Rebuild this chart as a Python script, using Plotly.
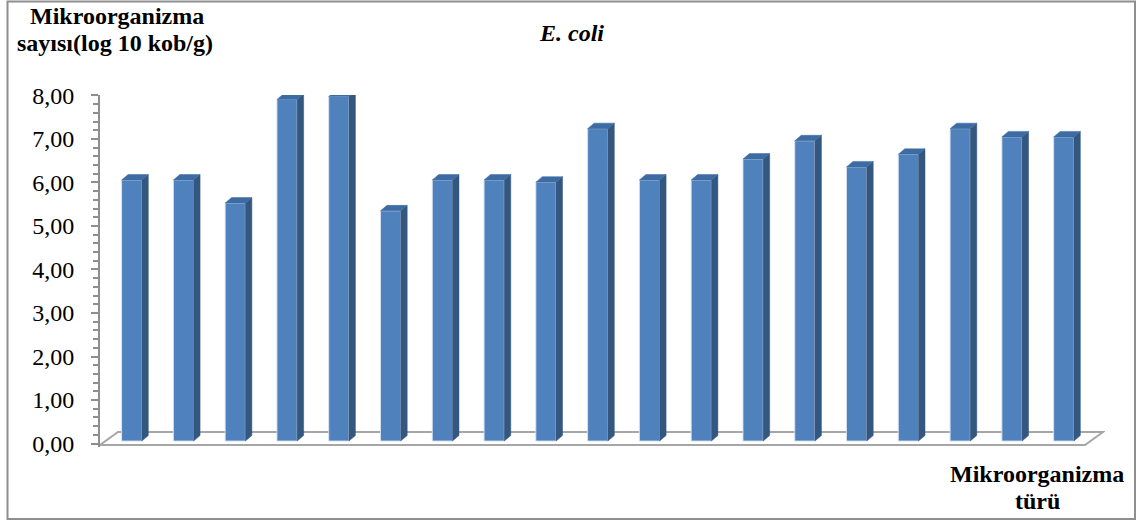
import plotly.graph_objects as go

# ---- data ----
categories = [str(i) for i in range(1, 20)]
values = [6.00, 6.00, 5.47, 7.85, 7.92, 5.29, 6.00, 6.00, 5.95, 7.18,
          6.00, 6.00, 6.48, 6.90, 6.30, 6.59, 7.18, 6.99, 6.99]
y_ticks = [0, 1, 2, 3, 4, 5, 6, 7, 8]
y_tick_labels = ["0,00", "1,00", "2,00", "3,00", "4,00", "5,00", "6,00", "7,00", "8,00"]
title_text = "<b><i>E. coli</i></b>"
y_title_lines = ["Mikroorganizma", "sayısı(log 10 kob/g)"]
x_title_lines = ["Mikroorganizma", "türü"]

# ---- geometry / style ----
W, H = 1140, 522
L_PX, R_PX, T_PX, B_PX = 100, 1105, 95, 447
px_per_cat = 51.78
first_center_px = 131.7
x_lo = (L_PX - first_center_px) / px_per_cat
x_hi = (R_PX - first_center_px) / px_per_cat
y_lo, y_hi = -0.08, 8.01
px_per_val = (B_PX - T_PX) / (y_hi - y_lo)

bar_w = 0.39
dx = 6.5 / px_per_cat
dy = 5.5 / px_per_val
base_off = 0.057

FRONT = "#4F81BD"
SIDE = "#34577F"
TOP = "#3D6BA3"
GRAY = "#8E8E8E"
FONT = "Liberation Serif"

xs = list(range(len(values)))

fig = go.Figure()

fig.add_trace(go.Bar(
    x=xs, y=values, base=[base_off] * len(values), width=bar_w,
    marker=dict(color=FRONT, line=dict(color="rgba(215,226,242,0.9)", width=1)),
    hoverinfo="skip", showlegend=False,
))

side_x, side_y, top_x, top_y = [], [], [], []
for x, v in zip(xs, values):
    xl, xr = x - bar_w / 2, x + bar_w / 2
    b, t = base_off, base_off + v
    side_x += [xr, xr + dx, xr + dx, xr, xr, None]
    side_y += [b, b + dy, t + dy, t, b, None]
    top_x += [xl, xl + dx, xr + dx, xr, xl, None]
    top_y += [t, t + dy, t + dy, t, t, None]

fig.add_trace(go.Scatter(x=side_x, y=side_y, fill="toself", fillcolor=SIDE,
                         mode="lines", line=dict(color=SIDE, width=0.5),
                         hoverinfo="skip", showlegend=False))
fig.add_trace(go.Scatter(x=top_x, y=top_y, fill="toself", fillcolor=TOP,
                         mode="lines", line=dict(color=TOP, width=0.5),
                         hoverinfo="skip", showlegend=False))

# floor parallelogram (below bars)
floor_front_y = -0.035
floor_back_y = 0.264
floor_dx = 18 / px_per_cat
fl = x_lo
fr = (1085 - first_center_px) / px_per_cat
path = (f"M {fl},{floor_front_y} L {fr},{floor_front_y} "
        f"L {fr + floor_dx},{floor_back_y} L {fl + floor_dx},{floor_back_y} Z")
shapes = [dict(type="path", path=path, xref="x", yref="y", layer="below",
               line=dict(color="#A6A6A6", width=2), fillcolor="rgba(0,0,0,0)")]

# outer border (paper coords from pixel positions)
def px2paper_x(px):
    return (px - L_PX) / (R_PX - L_PX)

def px2paper_y(py):
    return (B_PX - py) / (B_PX - T_PX)

shapes.append(dict(type="rect", xref="paper", yref="paper",
                   x0=px2paper_x(7.5), x1=px2paper_x(1135), y0=px2paper_y(519), y1=px2paper_y(1.5),
                   line=dict(color=GRAY, width=2), fillcolor="rgba(0,0,0,0)", layer="below"))

annotations = []
def add_text(txt, x, cy, anchor="center", size=24):
    annotations.append(dict(text=txt, x=px2paper_x(x), y=px2paper_y(cy), xref="paper", yref="paper",
                            xanchor=anchor, yanchor="middle", showarrow=False,
                            font=dict(family=FONT, size=size, color="black")))

add_text(f"<b>{y_title_lines[0]}</b>", 28, 16, anchor="left")
add_text(f"<b>{y_title_lines[1]}</b>", 15, 43, anchor="left")
add_text(title_text, 571, 33)
add_text(f"<b>{x_title_lines[0]}</b>", 1037, 474)
add_text(f"<b>{x_title_lines[1]}</b>", 1037, 501)

fig.update_layout(
    width=W, height=H,
    margin=dict(l=L_PX, r=W - R_PX, t=T_PX, b=H - B_PX, pad=0),
    paper_bgcolor="white", plot_bgcolor="rgba(0,0,0,0)",
    bargap=0.5,
    shapes=shapes, annotations=annotations,
    xaxis=dict(range=[x_lo, x_hi], visible=False, showgrid=False, zeroline=False),
    yaxis=dict(range=[y_lo, y_hi], showgrid=False, zeroline=False,
               showline=True, linecolor=GRAY, linewidth=2,
               ticks="outside", ticklen=7, tickwidth=1.5, tickcolor=GRAY,
               tickvals=y_ticks, ticktext=y_tick_labels, ticklabelstandoff=12,
               tickfont=dict(family=FONT, size=24, color="black"),
               minor=dict(dtick=0.2, ticks="outside", ticklen=5, tickwidth=1.5, tickcolor=GRAY)),
    font=dict(family=FONT),
)

fig.write_html("out.html")
